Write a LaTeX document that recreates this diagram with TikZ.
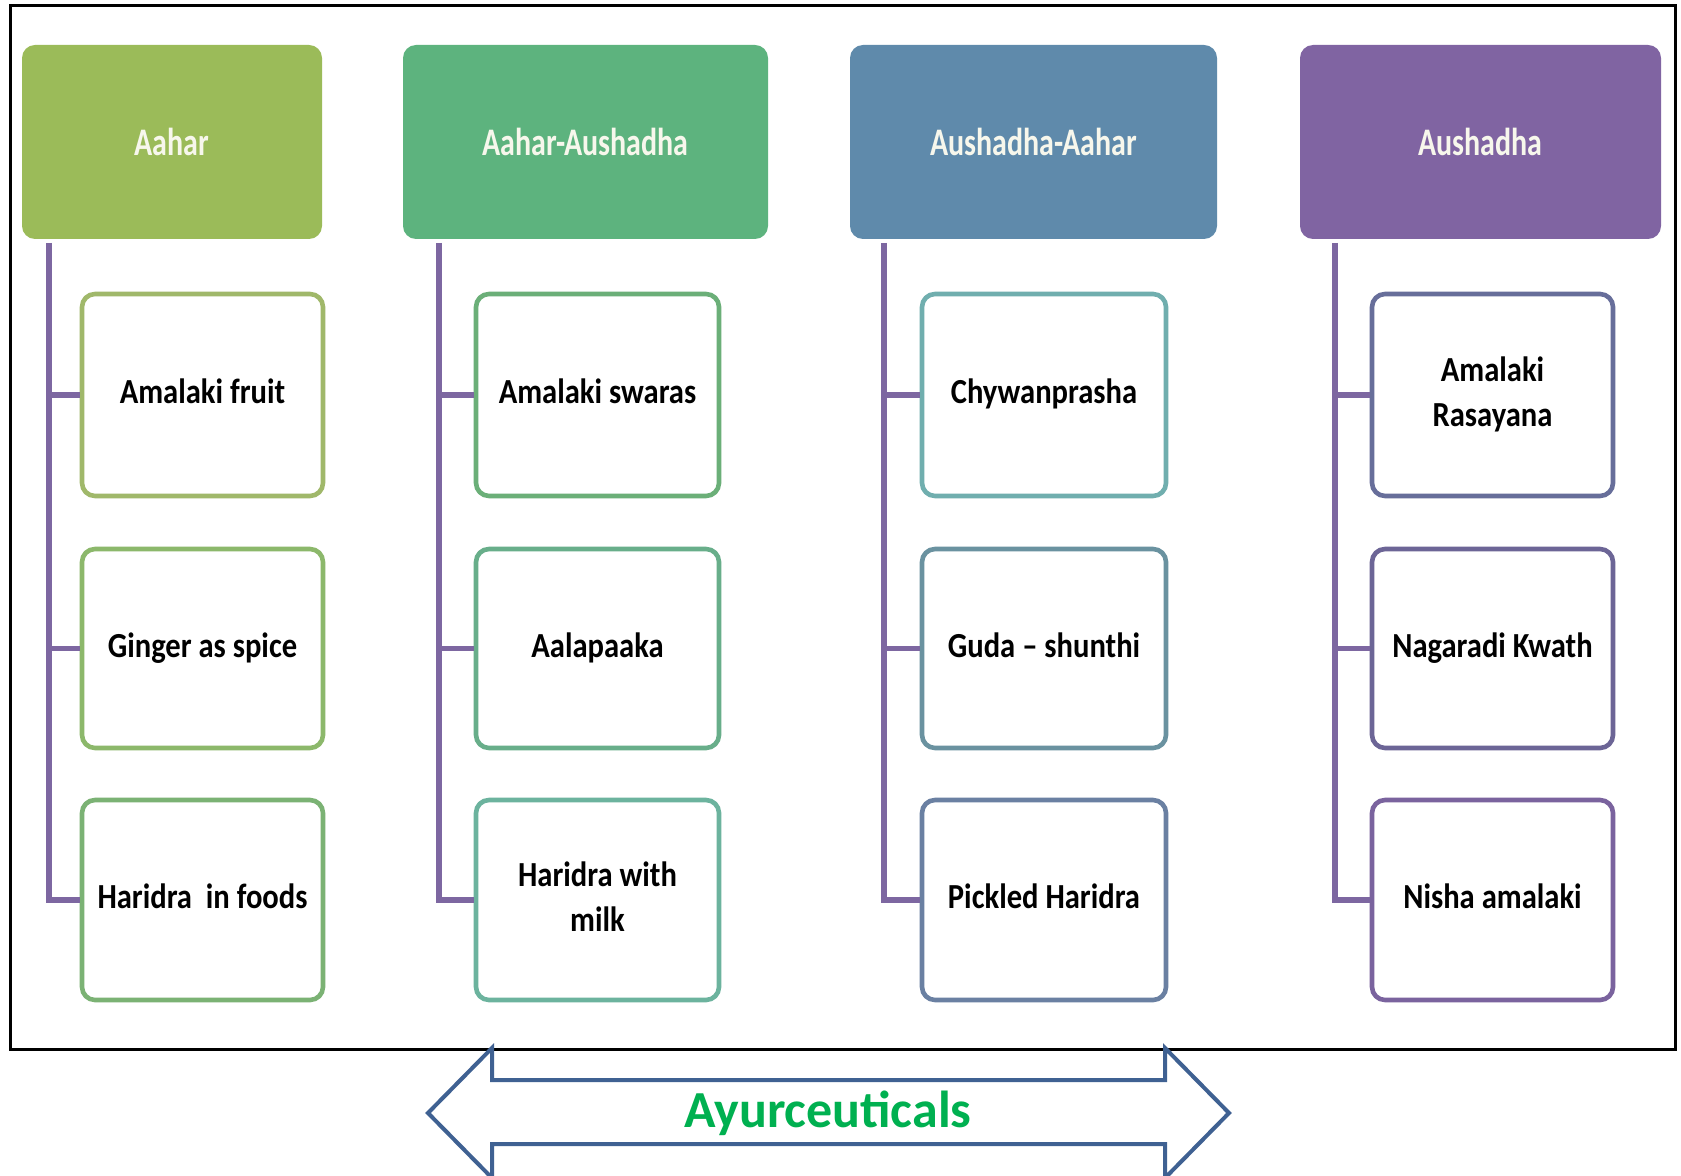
\documentclass[tikz,border=0pt]{standalone}
\usepackage{fontspec}
\setmainfont{Carlito}
\usepackage{graphicx}
\definecolor{hA}{HTML}{9BBB59}
\definecolor{hB}{HTML}{5DB37E}
\definecolor{hC}{HTML}{5F8AAB}
\definecolor{hD}{HTML}{8064A2}
\definecolor{hdtx}{HTML}{F7F7EC}
\definecolor{bA1}{HTML}{A0B86A}
\definecolor{bA2}{HTML}{8CB86B}
\definecolor{bA3}{HTML}{7BB274}
\definecolor{bB1}{HTML}{6BAF78}
\definecolor{bB2}{HTML}{68AE8A}
\definecolor{bB3}{HTML}{6CB39E}
\definecolor{bC1}{HTML}{70AEAE}
\definecolor{bC2}{HTML}{6A92A0}
\definecolor{bC3}{HTML}{6A80A2}
\definecolor{bD1}{HTML}{676E9A}
\definecolor{bD2}{HTML}{6C6596}
\definecolor{bD3}{HTML}{7A639E}
\definecolor{connc}{HTML}{7D67A1}
\definecolor{arrc}{HTML}{3F6192}
\definecolor{ayg}{HTML}{00B050}
\newcommand{\hdtext}[1]{\scalebox{1}[1.3]{#1}}
\newcommand{\bxtext}[1]{\scalebox{1}[1.15]{\begin{tabular}{@{}c@{}}#1\end{tabular}}}
\tikzset{
  hdr/.style={rounded corners=6.5pt, inner sep=0pt, minimum height=97pt, text=hdtx,
    font=\bfseries\fontsize{15}{18}\selectfont},
  itembox/.style={draw, line width=2.3pt, rounded corners=6.5pt, fill=white, inner sep=0pt,
    text=black, font=\bfseries\fontsize{15.3}{19.5}\selectfont},
  conn/.style={draw=connc, line width=2.8pt},
  frame/.style={draw=black, line width=1.5pt},
  bigarrow/.style={draw=arrc, line width=2pt, fill=white, line join=miter}
}
\begin{document}
\begin{tikzpicture}[x=0.5pt,y=-0.5pt]
\clip (0,0) rectangle (1681,1176);
\fill[white] (0,0) rectangle (1681,1176);
\draw[frame] (10,6) rectangle (1675,1049);

% headers
\node[hdr, fill=hA, minimum width=150pt] (h1) at (172,142) {\hdtext{Aahar}};
\node[hdr, fill=hB, minimum width=182.5pt] (h2) at (585.5,142) {\hdtext{Aahar-Aushadha}};
\node[hdr, fill=hC, minimum width=183.5pt] (h3) at (1033.5,142) {\hdtext{Aushadha-Aahar}};
\node[hdr, fill=hD, minimum width=180.5pt] (h4) at (1480.5,142) {\hdtext{Aushadha}};

% trunk tops
\coordinate (t1) at (49,243);
\coordinate (t2) at (439,243);
\coordinate (t3) at (884,243);
\coordinate (t4) at (1335,243);

% item boxes
\node[itembox, draw=bA1, minimum width=120.5pt, minimum height=101pt] (c11) at (202.5,395) {\bxtext{Amalaki fruit}};
\node[itembox, draw=bA2, minimum width=120.5pt, minimum height=99.5pt] (c12) at (202.5,648.5) {\bxtext{Ginger as\ spice}};
\node[itembox, draw=bA3, minimum width=120.5pt, minimum height=100pt] (c13) at (202.5,900) {\bxtext{Haridra\ \ in foods}};

\node[itembox, draw=bB1, minimum width=121.5pt, minimum height=101pt] (c21) at (597.5,395) {\bxtext{Amalaki swaras}};
\node[itembox, draw=bB2, minimum width=121.5pt, minimum height=99.5pt] (c22) at (597.5,648.5) {\bxtext{Aalapaaka}};
\node[itembox, draw=bB3, minimum width=121.5pt, minimum height=100pt] (c23) at (597.5,900) {\bxtext{Haridra with\\milk}};

\node[itembox, draw=bC1, minimum width=122pt, minimum height=101pt] (c31) at (1044,395) {\bxtext{Chywanprasha}};
\node[itembox, draw=bC2, minimum width=122pt, minimum height=99.5pt] (c32) at (1044,648.5) {\bxtext{Guda -- shunthi}};
\node[itembox, draw=bC3, minimum width=122pt, minimum height=100pt] (c33) at (1044,900) {\bxtext{Pickled Haridra}};

\node[itembox, draw=bD1, minimum width=120.5pt, minimum height=101pt] (c41) at (1492.5,395) {\bxtext{Amalaki\\Rasayana}};
\node[itembox, draw=bD2, minimum width=120.5pt, minimum height=99.5pt] (c42) at (1492.5,648.5) {\bxtext{Nagaradi Kwath}};
\node[itembox, draw=bD3, minimum width=120.5pt, minimum height=100pt] (c43) at (1492.5,900) {\bxtext{Nisha amalaki}};

% connectors
\foreach \c in {1,2,3,4}{
  \draw[conn] (t\c) |- (c\c3.west);
  \draw[conn] (t\c |- c\c1.west) -- (c\c1.west);
  \draw[conn] (t\c |- c\c2.west) -- (c\c2.west);
}

% bottom double arrow
\draw[bigarrow] (428,1113) -- (492,1048) -- (492,1080) -- (1165,1080) -- (1165,1048)
  -- (1229,1113) -- (1165,1178) -- (1165,1144) -- (492,1144) -- (492,1178) -- cycle;
\node[text=ayg, font=\bfseries\fontsize{26}{30}\selectfont] (ay) at (828,1113) {Ayurceuticals};
\end{tikzpicture}
\end{document}
